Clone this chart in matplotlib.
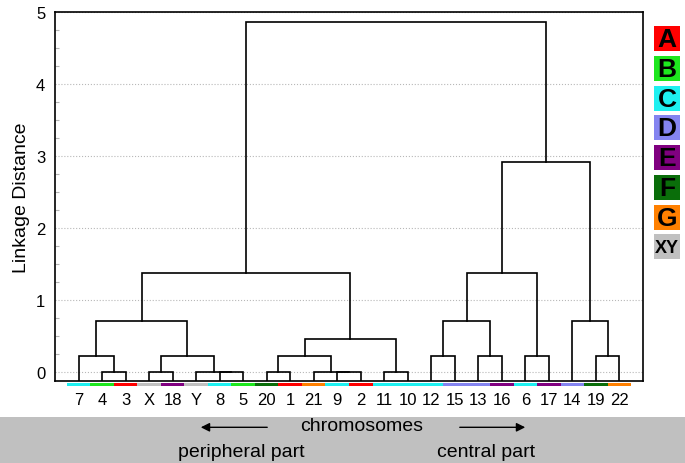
import matplotlib
matplotlib.use("Agg")
import matplotlib.pyplot as plt
from matplotlib.patches import Rectangle, FancyArrowPatch
from matplotlib.ticker import MultipleLocator

plt.rcParams['font.family'] = ['Liberation Sans', 'DejaVu Sans']

# chromosomes in the order of the tree, and their group
leaves = ['7', '4', '3', 'X', '18', 'Y', '8', '5', '20', '1', '21', '9', '2',
          '11', '10', '12', '15', '13', '16', '6', '17', '14', '19', '22']
groups = ['C', 'B', 'A', 'XY', 'E', 'XY', 'C', 'B', 'F', 'A', 'G', 'C', 'A',
          'C', 'C', 'C', 'D', 'D', 'E', 'C', 'E', 'D', 'F', 'G']
group_names = ['A', 'B', 'C', 'D', 'E', 'F', 'G', 'XY']
group_colors = ['#ff0000', '#1ee61e', '#1ef0f0', '#8484f0',
                '#800080', '#0a6e0a', '#ff8000', '#c0c0c0']

# joins: (left, right, linkage distance); 0-23 = leaves, 24+ = earlier joins
joins = [
    (1, 2, 0.0), (3, 4, 0.0), (6, 7, 0.0), (5, 26, 0.0),
    (8, 9, 0.0), (11, 12, 0.0), (10, 29, 0.0), (13, 14, 0.0),
    (0, 24, 0.23), (25, 27, 0.23), (28, 30, 0.23), (15, 16, 0.23),
    (17, 18, 0.23), (19, 20, 0.23), (22, 23, 0.23),
    (34, 31, 0.47), (32, 33, 0.72), (35, 36, 0.72), (21, 38, 0.72),
    (40, 39, 1.38), (41, 37, 1.38), (44, 42, 2.92), (43, 45, 4.87),
]

ymin, ymax = -0.115, 5.0

fig = plt.figure(figsize=(6.85, 4.64), dpi=100)
ax = fig.add_axes([55 / 685, 1 - 381.7 / 464, 588 / 685, 368.4 / 464])

# node positions: leaves sit on the bottom of the plot
xs = [i + 1 for i in range(len(leaves))]
hs = [ymin] * len(leaves)
for a, b, d in joins:
    xa, xb = xs[a], xs[b]
    ax.plot([xa, xa, xb, xb], [hs[a], d, d, hs[b]], color='black', lw=1.2,
            solid_joinstyle='miter', zorder=3)
    xs.append((xa + xb) / 2)
    hs.append(d)

ax.set_xlim(0, 25)
ax.set_ylim(ymin, ymax)
ax.set_yticks(range(6))
ax.yaxis.set_minor_locator(MultipleLocator(0.25))
ax.tick_params(axis='y', which='major', length=0, pad=7, labelsize=12)
ax.tick_params(axis='y', which='minor', direction='in', length=3,
               color='#b4b4b4', width=0.8)
ax.grid(axis='y', which='major', linestyle=':', color='#b8b8b8', lw=0.8)
ax.set_xticks(range(1, len(leaves) + 1), leaves)
ax.tick_params(axis='x', length=0, pad=8, labelsize=12)
for s in ax.spines.values():
    s.set_linewidth(1.2)

# group colour strip under each chromosome
for i, g in enumerate(groups):
    ax.add_patch(Rectangle((i + 0.5, -0.0145), 1, 0.009,
                           transform=ax.get_xaxis_transform(), clip_on=False,
                           color=group_colors[group_names.index(g)], lw=0))

fig.text(22 / 685, 0.574, 'Linkage Distance', rotation=90, ha='center',
         va='center', fontsize=14)

# group legend on the right
for k, (name, col) in enumerate(zip(group_names, group_colors)):
    top = 27.3 + k * 29.7
    fig.add_artist(Rectangle((654 / 685, 1 - (top + 25) / 464), 26 / 685,
                             25 / 464, transform=fig.transFigure, color=col,
                             lw=0))
    fig.text(667 / 685, 1 - (top + 13) / 464, name, ha='center', va='center',
             fontsize=19 if name != 'XY' else 13, fontweight='bold')

# grey band with the axis caption
fig.add_artist(Rectangle((0, 0), 1, 46.3 / 464, transform=fig.transFigure,
                         color='#c0c0c0', lw=0, zorder=0))
fig.text(361.7 / 685, 1 - 431 / 464, 'chromosomes', ha='center',
         va='baseline', fontsize=14)
fig.text(241 / 685, 1 - 457.3 / 464, 'peripheral part', ha='center',
         va='baseline', fontsize=14)
fig.text(486 / 685, 1 - 457.3 / 464, 'central part', ha='center',
         va='baseline', fontsize=14)
fig.add_artist(FancyArrowPatch((270 / 685, 1 - 428.3 / 464),
                               (198 / 685, 1 - 428.3 / 464),
                               transform=fig.transFigure, arrowstyle='-|>',
                               mutation_scale=13, lw=1, color='black'))
fig.add_artist(FancyArrowPatch((457 / 685, 1 - 428.3 / 464),
                               (528 / 685, 1 - 428.3 / 464),
                               transform=fig.transFigure, arrowstyle='-|>',
                               mutation_scale=13, lw=1, color='black'))

fig.savefig('out.png', dpi=100)
